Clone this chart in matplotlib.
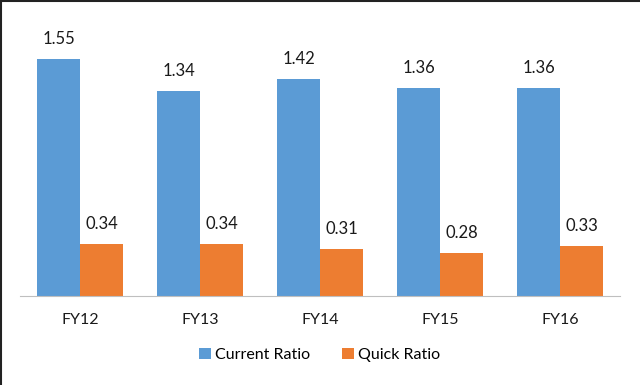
import numpy as np
from matplotlib import pyplot as plt
from matplotlib.lines import Line2D

plt.rcParams['font.family'] = ['Lato', 'DejaVu Sans']

years = ['FY12', 'FY13', 'FY14', 'FY15', 'FY16']
current_ratio = [1.55, 1.34, 1.42, 1.36, 1.36]
quick_ratio = [0.34, 0.34, 0.31, 0.28, 0.33]

blue = '#5B9BD5'
orange = '#ED7D31'

fig = plt.figure(figsize=(6.4, 3.85), dpi=100)
ax = fig.add_axes([20/640, 1 - 296/385, 600/640, 275/385])

x = np.arange(len(years))
w = 0.358
b1 = ax.bar(x - w/2, current_ratio, w, color=blue, label='Current Ratio')
b2 = ax.bar(x + w/2, quick_ratio, w, color=orange, label='Quick Ratio')

for bars in (b1, b2):
    for rect in bars:
        h = rect.get_height()
        ax.annotate(f'{h:.2f}', (rect.get_x() + rect.get_width()/2, h),
                    xytext=(0, 8.5), textcoords='offset points',
                    ha='center', va='bottom', fontsize=12, color='#1a1a1a')

ax.set_xlim(-0.5, len(years) - 0.5)
ax.set_ylim(0, 1.8)
ax.set_yticks([])
ax.set_xticks(x)
ax.set_xticklabels(years, fontsize=11.5, color='#1a1a1a')
ax.tick_params(axis='x', length=0, pad=12)
for s in ['top', 'right', 'left']:
    ax.spines[s].set_visible(False)
ax.spines['bottom'].set_color('#BFBFBF')

leg = fig.legend(loc='center', bbox_to_anchor=(0.5, 1 - 355/385), ncol=2,
                 frameon=False, fontsize=11.5, handlelength=0.7, handleheight=0.7,
                 handletextpad=0.3, columnspacing=2.0)

# dark frame edges along top and left
fig.add_artist(Line2D([0, 1], [0.998, 0.998], transform=fig.transFigure, color='#222222', lw=1.5))
fig.add_artist(Line2D([0.001, 0.001], [0, 1], transform=fig.transFigure, color='#222222', lw=1.5))

fig.savefig('out.png', dpi=100, facecolor='white')
